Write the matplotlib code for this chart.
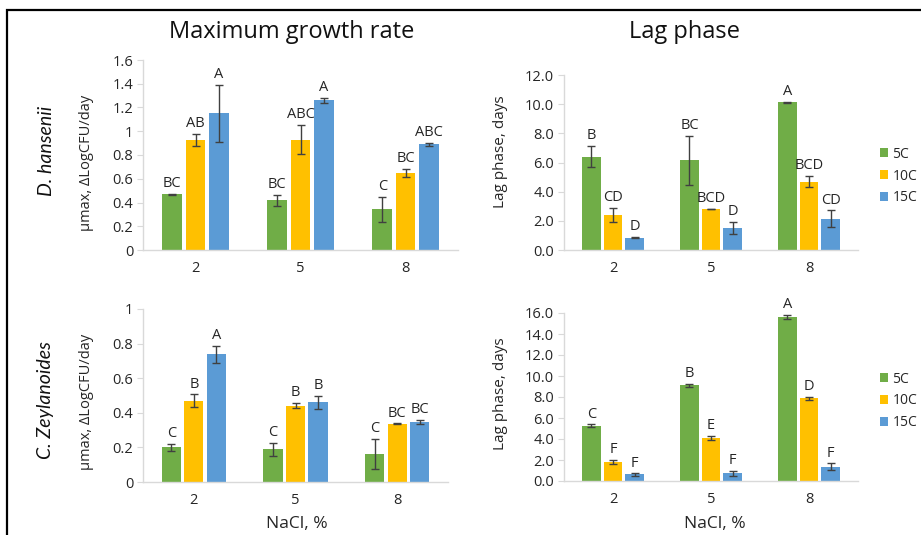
import numpy as np
import matplotlib
matplotlib.use("Agg")
import matplotlib.pyplot as plt
from matplotlib.patches import Rectangle, Patch

plt.rcParams['font.family'] = ['Open Sans', 'DejaVu Sans']

W, H = 921, 535
DPI = 100

nacl = ["2", "5", "8"]
temps = ["5C", "10C", "15C"]
colors = ["#70AD47", "#FFC000", "#5B9BD5"]

# D. hansenii - maximum growth rate
dh_mu = [[0.47, 0.42, 0.345], [0.93, 0.93, 0.65], [1.15, 1.26, 0.89]]
dh_mu_err = [[0.005, 0.046, 0.105], [0.05, 0.125, 0.035], [0.24, 0.022, 0.012]]
dh_mu_lbl = [["BC", "BC", "C"], ["AB", "ABC", "BC"], ["A", "A", "ABC"]]

# D. hansenii - lag phase
dh_lag = [[6.4, 6.17, 10.13], [2.4, 2.81, 4.69], [0.85, 1.53, 2.15]]
dh_lag_err = [[0.74, 1.68, 0.03], [0.48, 0.03, 0.39], [0.05, 0.41, 0.57]]
dh_lag_lbl = [["B", "BC", "A"], ["CD", "BCD", "BCD"], ["D", "D", "CD"]]

# C. zeylanoides - maximum growth rate
cz_mu = [[0.20, 0.188, 0.16], [0.471, 0.442, 0.336], [0.738, 0.46, 0.346]]
cz_mu_err = [[0.022, 0.04, 0.087], [0.036, 0.014, 0.003], [0.049, 0.037, 0.012]]
cz_mu_lbl = [["C", "C", "C"], ["B", "B", "BC"], ["A", "B", "BC"]]

# C. zeylanoides - lag phase
cz_lag = [[5.25, 9.12, 15.65], [1.78, 4.07, 7.89], [0.62, 0.73, 1.37]]
cz_lag_err = [[0.15, 0.15, 0.2], [0.2, 0.2, 0.15], [0.1, 0.25, 0.3]]
cz_lag_lbl = [["C", "B", "A"], ["F", "E", "D"], ["F", "F", "F"]]

fig = plt.figure(figsize=(W / DPI, H / DPI), dpi=DPI)
fig.patch.set_facecolor("white")

TXT = "#262626"


def rect(l, t, r, b):
    return [l / W, 1 - b / H, (r - l) / W, (b - t) / H]


def fx(px):
    return px / W


def fy(py):
    return 1 - py / H


def panel(box, vals, errs, lbls, ymax, ystep, fmt):
    ax = fig.add_axes(rect(*box))
    x = np.arange(len(nacl))
    width = 0.19
    step = 0.22
    for i in range(3):
        xs = x + (i - 1) * step
        ax.bar(xs, vals[i], width, color=colors[i], zorder=2)
        ax.errorbar(xs, vals[i], yerr=errs[i], fmt="none", ecolor="#404040",
                    elinewidth=1.0, capsize=3, capthick=1.0, zorder=3)
        for xi, v, e, t in zip(xs, vals[i], errs[i], lbls[i]):
            ax.annotate(t, (xi, v + e), xytext=(0, 2), textcoords="offset points",
                        ha="center", va="bottom", fontsize=10.5, color=TXT)
    ax.set_xlim(-0.5, 2.5)
    ax.set_ylim(0, ymax)
    ticks = np.arange(0, ymax + ystep / 2, ystep)
    ax.set_yticks(ticks)
    ax.set_yticklabels([fmt(t) for t in ticks])
    ax.set_xticks(x)
    ax.set_xticklabels(nacl)
    for s in ["top", "right"]:
        ax.spines[s].set_visible(False)
    for s in ["left", "bottom"]:
        ax.spines[s].set_color("#D9D9D9")
        ax.spines[s].set_linewidth(1.0)
    ax.tick_params(axis="y", length=4, color="#D9D9D9", labelsize=10.5,
                   labelcolor=TXT, pad=3)
    ax.tick_params(axis="x", length=0, labelsize=10.5, labelcolor=TXT, pad=8)
    return ax


def gen_fmt(t):
    s = f"{t:.1f}"
    return s[:-2] if s.endswith(".0") else s


def one_fmt(t):
    return f"{t:.1f}"


ax1 = panel((143, 60, 458, 250), dh_mu, dh_mu_err, dh_mu_lbl, 1.6, 0.2, gen_fmt)
ax2 = panel((564, 75, 858, 250), dh_lag, dh_lag_err, dh_lag_lbl, 12.0, 2.0, one_fmt)
ax3 = panel((143, 309, 448, 482), cz_mu, cz_mu_err, cz_mu_lbl, 1.0, 0.2, gen_fmt)
ax4 = panel((564, 313, 858, 481), cz_lag, cz_lag_err, cz_lag_lbl, 16.0, 2.0, one_fmt)

# axis titles
for yc in (163, 402):
    fig.text(fx(86), fy(yc), "μmax, ΔLogCFU/day", fontsize=10.5, rotation=90,
             ha="center", va="center", color=TXT)
for yc in (152, 394):
    fig.text(fx(500), fy(yc), "Lag phase, days", fontsize=11, rotation=90,
             ha="center", va="center", color=TXT)
for xc in (297, 715):
    fig.text(fx(xc), fy(524), "NaCl, %", fontsize=12.5, ha="center", va="center",
             color=TXT)

fig.text(fx(292), fy(32), "Maximum growth rate", fontsize=17, ha="center",
         va="center", color="#111111")
fig.text(fx(684), fy(32), "Lag phase", fontsize=17, ha="center", va="center",
         color="#111111")
fig.text(fx(46), fy(151), "D. hansenii", fontsize=14, style="italic", rotation=90,
         ha="center", va="center", color="#111111", family=["Lato", "DejaVu Sans"])
fig.text(fx(46), fy(400), "C. Zeylanoides", fontsize=14, style="italic", rotation=90,
         ha="center", va="center", color="#111111", family=["Lato", "DejaVu Sans"])

handles = [Patch(facecolor=c, edgecolor="none") for c in colors]
for yc in (176, 401):
    fig.legend(handles, temps, loc="center left", bbox_to_anchor=(fx(880), fy(yc)),
               frameon=False, handlelength=0.6, handleheight=0.6, handletextpad=0.3,
               labelspacing=0.5, fontsize=10, borderaxespad=0, borderpad=0,
               labelcolor=TXT)

frame = Rectangle((fx(7), -0.05), 1.2, fy(10) + 0.05, transform=fig.transFigure,
                  fill=False, edgecolor="black", linewidth=1.6, clip_on=False)
fig.patches.append(frame)

fig.savefig("out.png", dpi=DPI)
